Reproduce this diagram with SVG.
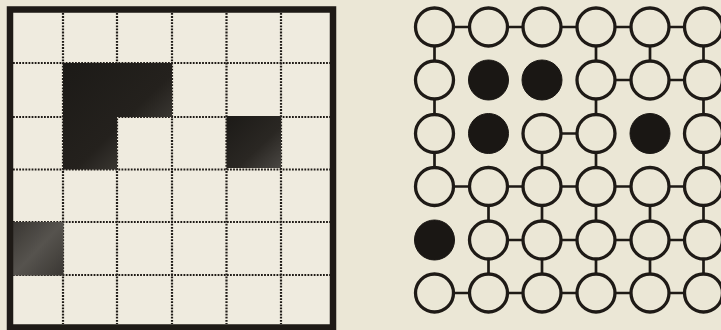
<svg xmlns="http://www.w3.org/2000/svg" width="721" height="330" viewBox="0 0 721 330">
<defs>
<style>
.dot{stroke:#1e1a16;stroke-width:2.2;stroke-dasharray:1.8 1.3;fill:none}
.node{fill:#ebe7d6;stroke:#1e1a16;stroke-width:3.3}
.full{fill:#1a1714;stroke:#1a1714;stroke-width:1}
.conn{stroke:#1e1a16;stroke-width:2.7}
</style>
<linearGradient id="gL" x1="0" y1="0" x2="1" y2="1">
<stop offset="0" stop-color="#1c1a17"/>
<stop offset="0.55" stop-color="#24211d"/>
<stop offset="0.8" stop-color="#3e3b36"/>
<stop offset="1" stop-color="#2a2723"/>
</linearGradient>
<linearGradient id="gC" x1="0" y1="0" x2="1" y2="1">
<stop offset="0" stop-color="#1c1a17"/>
<stop offset="0.6" stop-color="#2a2723"/>
<stop offset="1" stop-color="#4a4743"/>
</linearGradient>
<linearGradient id="gG" x1="0" y1="0" x2="1" y2="1">
<stop offset="0" stop-color="#3a3733"/>
<stop offset="0.5" stop-color="#56534e"/>
<stop offset="1" stop-color="#3a3733"/>
</linearGradient>
</defs>
<rect x="0" y="0" width="721" height="330" fill="#ebe7d6"/>
<g id="grid">
<rect x="10" y="9.5" width="323" height="318" fill="#efebdf"/>
<g class="dot">
<line x1="63" y1="13" x2="63" y2="324"/>
<line x1="117" y1="13" x2="117" y2="324"/>
<line x1="172" y1="13" x2="172" y2="324"/>
<line x1="226.5" y1="13" x2="226.5" y2="324"/>
<line x1="281" y1="13" x2="281" y2="324"/>
<line x1="13" y1="63" x2="330" y2="63"/>
<line x1="13" y1="117" x2="330" y2="117"/>
<line x1="13" y1="169.5" x2="330" y2="169.5"/>
<line x1="13" y1="222" x2="330" y2="222"/>
<line x1="13" y1="275" x2="330" y2="275"/>
</g>
<path d="M63,63 H172 V117 H117 V169.5 H63 Z" fill="url(#gL)"/>
<rect x="226.5" y="116" width="54.5" height="52" fill="url(#gC)"/>
<rect x="13" y="222" width="50.5" height="53.5" fill="url(#gG)"/>
<rect x="10" y="9.5" width="323" height="318" fill="none" stroke="#1e1a16" stroke-width="6.5"/>
</g>
<g id="connectors" class="conn">
<line x1="434.5" y1="27" x2="703.5" y2="27"/>
<line x1="596" y1="80" x2="703.5" y2="80"/>
<line x1="542" y1="133.5" x2="596" y2="133.5"/>
<line x1="434.5" y1="186.5" x2="703.5" y2="186.5"/>
<line x1="488.5" y1="240" x2="703.5" y2="240"/>
<line x1="434.5" y1="293" x2="703.5" y2="293"/>
<line x1="434.5" y1="27" x2="434.5" y2="186.5"/>
<line x1="596" y1="27" x2="596" y2="293"/>
<line x1="650" y1="27" x2="650" y2="80"/>
<line x1="703.5" y1="27" x2="703.5" y2="293"/>
<line x1="542" y1="133.5" x2="542" y2="293"/>
<line x1="488.5" y1="186.5" x2="488.5" y2="293"/>
<line x1="650" y1="186.5" x2="650" y2="293"/>
</g>
<g id="n00"><circle class="node" cx="434.5" cy="27" r="19"/></g>
<g id="n01"><circle class="node" cx="488.5" cy="27" r="19"/></g>
<g id="n02"><circle class="node" cx="542" cy="27" r="19"/></g>
<g id="n03"><circle class="node" cx="596" cy="27" r="19"/></g>
<g id="n04"><circle class="node" cx="650" cy="27" r="19"/></g>
<g id="n05"><circle class="node" cx="703.5" cy="27" r="19"/></g>
<g id="n10"><circle class="node" cx="434.5" cy="80" r="19"/></g>
<g id="n11"><circle class="full" cx="488.5" cy="80" r="20"/></g>
<g id="n12"><circle class="full" cx="542" cy="80" r="20"/></g>
<g id="n13"><circle class="node" cx="596" cy="80" r="19"/></g>
<g id="n14"><circle class="node" cx="650" cy="80" r="19"/></g>
<g id="n15"><circle class="node" cx="703.5" cy="80" r="19"/></g>
<g id="n20"><circle class="node" cx="434.5" cy="133.5" r="19"/></g>
<g id="n21"><circle class="full" cx="488.5" cy="133.5" r="20"/></g>
<g id="n22"><circle class="node" cx="542" cy="133.5" r="19"/></g>
<g id="n23"><circle class="node" cx="596" cy="133.5" r="19"/></g>
<g id="n24"><circle class="full" cx="650" cy="133.5" r="20"/></g>
<g id="n25"><circle class="node" cx="703.5" cy="133.5" r="19"/></g>
<g id="n30"><circle class="node" cx="434.5" cy="186.5" r="19"/></g>
<g id="n31"><circle class="node" cx="488.5" cy="186.5" r="19"/></g>
<g id="n32"><circle class="node" cx="542" cy="186.5" r="19"/></g>
<g id="n33"><circle class="node" cx="596" cy="186.5" r="19"/></g>
<g id="n34"><circle class="node" cx="650" cy="186.5" r="19"/></g>
<g id="n35"><circle class="node" cx="703.5" cy="186.5" r="19"/></g>
<g id="n40"><circle class="full" cx="434.5" cy="240" r="20"/></g>
<g id="n41"><circle class="node" cx="488.5" cy="240" r="19"/></g>
<g id="n42"><circle class="node" cx="542" cy="240" r="19"/></g>
<g id="n43"><circle class="node" cx="596" cy="240" r="19"/></g>
<g id="n44"><circle class="node" cx="650" cy="240" r="19"/></g>
<g id="n45"><circle class="node" cx="703.5" cy="240" r="19"/></g>
<g id="n50"><circle class="node" cx="434.5" cy="293" r="19"/></g>
<g id="n51"><circle class="node" cx="488.5" cy="293" r="19"/></g>
<g id="n52"><circle class="node" cx="542" cy="293" r="19"/></g>
<g id="n53"><circle class="node" cx="596" cy="293" r="19"/></g>
<g id="n54"><circle class="node" cx="650" cy="293" r="19"/></g>
<g id="n55"><circle class="node" cx="703.5" cy="293" r="19"/></g>
</svg>
